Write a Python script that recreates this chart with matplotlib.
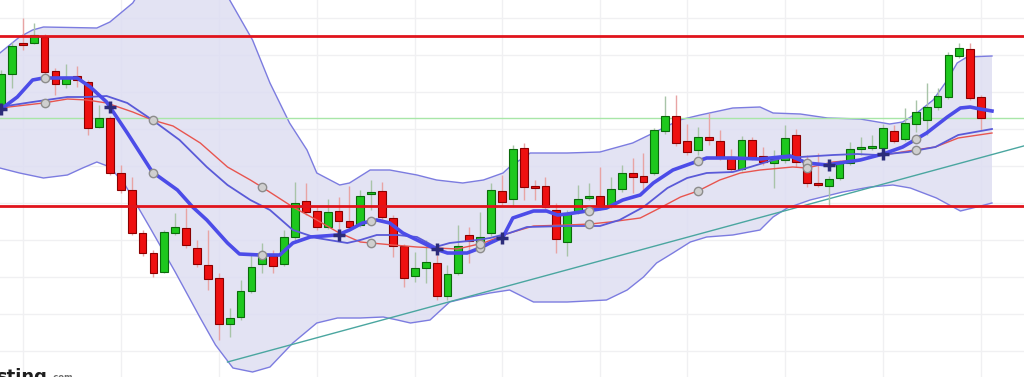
# plot.py
# Candlestick chart with Bollinger band, moving averages and support/resistance lines.
# Values (arbitrary price units).

import numpy as np
import matplotlib
matplotlib.use("Agg")
import matplotlib.pyplot as plt

# --- candles -------------------------------------------------------------
opens = [270, 303, 333, 334, 340, 306, 293, 301, 295, 250, 259, 204, 187, 144, 124,
         105, 144, 149, 129, 112, 99, 53, 60, 86, 113, 121, 113, 140, 176, 166,
         150, 166, 156, 152, 183, 186, 159, 131, 101, 109, 114, 81, 104, 142, 131,
         144, 186, 178, 229, 190, 191, 167, 135, 165, 179.5, 181, 171, 188, 204, 201,
         204, 246, 261, 236, 227, 240, 236, 220, 208, 237, 221, 214, 217, 242, 215,
         194, 191, 199, 214, 228, 229, 229, 246, 238, 253, 257, 270, 280, 321, 328, 280]
closes = [303, 331, 332, 342, 305, 293, 300, 297, 249, 259, 204, 187, 144, 124, 104,
          145, 150, 132, 113, 98, 53, 59, 86, 110, 121, 111, 140, 174, 165, 150,
          165, 156, 150, 181, 185, 160, 131, 99, 109, 115, 81, 103, 131, 136, 140,
          187, 175, 228, 190, 189, 170, 138, 164, 178, 180.5, 171, 188, 204, 200, 195,
          247, 261, 234, 225, 240, 237, 220, 208, 237, 220, 215, 218, 239, 215, 194,
          192, 198, 214, 228, 230, 230, 249, 236, 254, 265, 270, 281, 322, 329, 279, 259]
highs = [307, 335, 359, 354, 343, 309, 313, 311, 297, 272, 261, 212, 200, 147, 127,
         147, 164, 169, 137, 147, 104, 69, 97, 122, 134, 127, 147, 195, 194, 172,
         178, 180, 191, 187, 197, 195, 162, 133, 125, 137, 122, 112, 152, 150, 165,
         194, 202, 232, 234, 197, 200, 174, 167, 192, 194, 210, 200, 212, 219, 224,
         249, 281, 282, 253, 250, 264, 247, 228, 241, 240, 230, 227, 252, 248, 222,
         224, 201, 217, 235, 240, 242, 253, 252, 269, 277, 294, 289, 325, 334, 334, 282]
lows = [267, 289, 327, 333, 302, 282, 289, 290, 242, 249, 202, 184, 142, 121, 100,
        104, 142, 129, 110, 87, 37, 40, 57, 84, 104, 104, 111, 137, 162, 147,
        148, 145, 148, 150, 167, 157, 120, 90, 95, 94, 77, 77, 102, 114, 129,
        141, 172, 172, 177, 177, 167, 124, 121, 163, 177, 167, 169, 185, 184, 187,
        202, 243, 231, 222, 222, 232, 217, 205, 206, 217, 212, 189, 214, 210, 190,
        190, 170, 197, 212, 222, 227, 221, 234, 236, 245, 242, 267, 278, 319, 277, 247]

# --- Bollinger band (sampled along the bar index) ---------------------------
bb_upper_x = [-0.1, 1.7, 2.9, 3.9, 8.8, 10.0, 12.1, 13.7, 17.4, 20.1, 21.0, 23.1, 24.7,
              26.5, 28.1, 29.0, 31.1, 32.0, 33.9, 35.7, 38.2, 40.0, 42.4, 44.3, 46.1,
              46.7, 48.6, 52.0, 55.0, 58.0, 59.9, 62.3, 64.2, 67.2, 69.7, 70.9, 73.4,
              75.9, 78.9, 81.6, 82.8, 84.1, 85.6, 86.9, 87.8, 88.7, 91.0]
bb_upper = [324, 340, 347, 350, 349, 355, 374, 402, 412, 389, 377, 337, 294,
            254, 227, 204, 192, 194, 207, 207, 202, 197, 194, 197, 204,
            210, 224, 224, 225, 234, 244, 257, 262, 269, 270, 264, 263,
            259, 258, 253, 255, 264, 277, 297, 314, 320, 321]
bb_lower_x = [-0.1, 1.7, 3.9, 6.1, 7.5, 8.8, 10.0, 11.4, 13.7, 16.0, 18.3, 19.7, 21.3,
              23.1, 24.7, 26.8, 29.0, 30.9, 33.0, 35.1, 36.4, 37.6, 39.4, 41.2, 43.1,
              44.9, 46.7, 48.9, 52.0, 55.6, 57.5, 59.0, 60.2, 61.7, 63.3, 64.8, 67.2,
              69.7, 70.9, 72.2, 74.3, 77.3, 79.8, 81.9, 83.5, 85.9, 88.1, 89.6, 91.0]
bb_lower = [209, 204, 199, 202, 209, 215, 210, 192, 149, 105, 59, 32, 9,
            5, 10, 34, 54, 59, 59, 60, 57, 54, 57, 75, 80,
            84, 87, 75, 75, 77, 87, 100, 114, 124, 135, 140, 142,
            147, 160, 169, 177, 185, 190, 192, 189, 179, 166, 170, 174]

# --- moving averages ------------------------------------------------------
fast_x = [-0.1, 1.5, 2.9, 3.9, 7.0, 8.2, 9.7, 11.6, 13.9, 16.2, 17.6, 18.9, 20.8, 21.9,
          23.8, 25.6, 26.8, 28.4, 30.9, 32.0, 33.2, 34.5, 35.7, 36.9, 38.2, 39.9, 41.0,
          42.8, 44.0, 44.9, 46.1, 47.0, 48.9, 50.1, 51.1, 52.0, 53.8, 55.6, 57.1, 58.7,
          59.9, 61.7, 63.5, 64.8, 67.2, 69.7, 72.5, 74.0, 75.9, 77.0, 78.9, 81.0, 82.8,
          85.0, 86.9, 88.1, 89.0, 89.9, 91.0]
fast_ma = [267, 280, 297, 299, 299, 290, 275, 244, 205, 187, 170, 157, 134, 123,
           122, 122, 134, 140, 142, 147, 154, 157, 154, 144, 137, 128, 124,
           124, 129, 134, 140, 159, 166, 166, 162, 163, 166, 169, 177, 182,
           194, 207, 214, 219, 219, 218, 221, 214, 212, 214, 217, 223, 230,
           244, 260, 269, 270, 268, 266]
mid_x = [-0.1, 2.9, 6.1, 7.9, 9.7, 11.6, 13.9, 16.4, 18.9, 20.8, 22.9, 24.7, 26.8,
         29.0, 31.8, 33.0, 34.5, 36.4, 38.2, 39.9, 41.2, 43.7, 44.9, 46.7, 48.3, 52.0,
         55.0, 56.8, 59.0, 61.2, 63.0, 64.8, 67.2, 68.8, 70.6, 71.8, 73.4, 76.4, 78.6,
         80.5, 83.3, 85.8, 87.9, 91.0]
mid_ma = [270, 275, 280, 280, 281, 274, 257, 237, 210, 192, 177, 167, 147,
          139, 134, 137, 142, 142, 140, 130, 134, 137, 139, 144, 150, 151,
          151, 157, 170, 189, 199, 204, 205, 210, 216, 219, 220, 222, 223,
          222, 225, 230, 242, 248]
slow_x = [-0.1, 3.9, 6.1, 7.9, 9.7, 12.1, 13.9, 15.8, 18.3, 20.8, 22.9, 24.1, 26.8,
          29.0, 30.9, 33.0, 34.0, 36.0, 38.2, 40.0, 41.9, 44.3, 46.7, 48.9, 52.0, 54.1,
          55.9, 58.7, 60.5, 62.4, 64.0, 66.0, 67.9, 69.7, 72.7, 74.0, 76.4, 78.6, 80.5,
          83.3, 85.8, 87.9, 91.0]
slow_ma = [269, 274, 278, 277, 274, 265, 257, 251, 234, 210, 197, 189, 170,
           157, 145, 135, 134, 132, 130, 129, 128, 134, 144, 151, 152, 153,
           155, 159, 169, 180, 186, 197, 204, 207, 210, 209, 215, 217, 221,
           226, 230, 239, 244]

# signal markers (bar indices)
dot_bars = [4, 14, 24, 34, 44, 54, 64, 74, 84]
cross_bars = [0, 10, 31, 40, 46, 76, 81]

# horizontal levels and trend line
resistance = 341
support = 171
pivot = 259
trend_x = [20.8, 93.9]
trend_y = [15, 231]

v_grid = [2, 11, 20, 29, 38, 46, 55, 63, 72, 81, 90]
h_grid = [26, 63, 100, 137, 174, 211, 248, 285, 322, 359]


def main():
    fig = plt.figure(figsize=(10.24, 3.77), dpi=100)
    ax = fig.add_axes([0, 0, 1, 1])
    ax.set_xlim(-0.09, 93.94)
    ax.set_ylim(0, 377)
    ax.axis("off")

    for g in v_grid:
        ax.axvline(g, color="#f0f0f2", lw=1, zorder=0)
    for g in h_grid:
        ax.axhline(g, color="#f0f0f2", lw=1, zorder=0)

    # band: fill between upper and lower on a common grid
    xs = np.union1d(bb_upper_x, bb_lower_x)
    up = np.interp(xs, bb_upper_x, bb_upper)
    lo = np.interp(xs, bb_lower_x, bb_lower)
    ax.fill_between(xs, lo, up, color="#dedef2", alpha=0.85, lw=0, zorder=1)
    ax.plot(bb_upper_x, bb_upper, color="#7c7ce0", lw=1, zorder=2)
    ax.plot(bb_lower_x, bb_lower, color="#7c7ce0", lw=1, zorder=2)

    ax.plot(trend_x, trend_y, color="#4aa6a0", lw=1, zorder=2)
    ax.axhline(pivot, color="#a8e6a8", lw=1, zorder=2)

    # candles
    n = len(opens)
    x = np.arange(n)
    o = np.array(opens, float)
    c = np.array(closes, float)
    up_bar = c >= o
    body_lo = np.minimum(o, c)
    body_h = np.maximum(np.abs(c - o), 2.0)
    wick_col = np.where(up_bar, "#a8c4a8", "#e8a4a4")
    ax.vlines(x, lows, highs, colors=wick_col, lw=1, zorder=3)
    ax.bar(x[up_bar], body_h[up_bar], bottom=body_lo[up_bar], width=0.72,
           color="#1ec81e", edgecolor="#0b6a0b", lw=0.8, zorder=3)
    ax.bar(x[~up_bar], body_h[~up_bar], bottom=body_lo[~up_bar], width=0.72,
           color="#ee1010", edgecolor="#8a0000", lw=0.8, zorder=3)

    # moving averages
    ax.plot(slow_x, slow_ma, color="#e8554f", lw=1, zorder=4)
    ax.plot(mid_x, mid_ma, color="#5a5ad8", lw=1.3, zorder=4)
    ax.plot(fast_x, fast_ma, color="#4c4ce8", lw=2.6, zorder=4)

    # support / resistance
    ax.axhline(resistance, color="#e0141c", lw=2, zorder=5)
    ax.axhline(support, color="#e0141c", lw=2, zorder=5)

    # markers
    ax.plot(dot_bars, np.interp(dot_bars, fast_x, fast_ma), "o", ms=6,
            mfc="#cfcfcf", mec="#8c8c8c", mew=1, zorder=6)
    ax.plot(dot_bars, np.interp(dot_bars, slow_x, slow_ma), "o", ms=6,
            mfc="#cfcfcf", mec="#8c8c8c", mew=1, zorder=6)
    ax.plot(cross_bars, np.interp(cross_bars, fast_x, fast_ma), "+", ms=9,
            mec="#2c2c7a", mew=2.5, zorder=6)

    # cropped watermark
    fig.text(-0.004, 9 / 377, "sting", fontsize=13, fontweight="bold",
             color="#1e1e1e", va="top", ha="left")
    fig.text(0.049, 4 / 377, ".com", fontsize=6, fontweight="bold",
             color="#6a6a6a", va="top", ha="left")

    fig.savefig("out.png", dpi=100)
    plt.close(fig)


if __name__ == "__main__":
    main()
